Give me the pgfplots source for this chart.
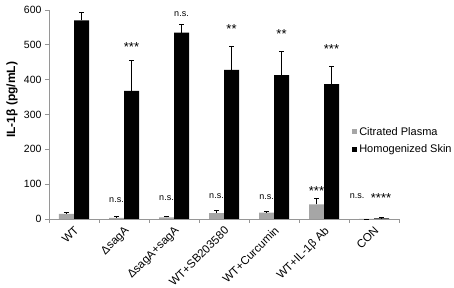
\documentclass[border=0pt]{standalone}
\usepackage{pgfplots}
\pgfplotsset{compat=1.18}
\usepackage{fontspec}
\setmainfont{Liberation Sans}
\definecolor{plasma}{RGB}{166,166,166}
\definecolor{axgray}{RGB}{150,150,150}
\begin{document}
\begin{tikzpicture}
\useasboundingbox (-49pt,-69pt) rectangle (405pt,219pt);
\begin{axis}[
  scale only axis,
  width=350pt, height=209pt,
  xmin=0, xmax=7, ymin=0, ymax=600,
  ybar=0pt, bar width=15pt,
  axis lines*=left,
  axis line style={axgray, line width=0.8pt},
  xtick={0.5,1.5,2.5,3.5,4.5,5.5,6.5},
  xticklabels={WT,ΔsagA,ΔsagA+sagA,WT+SB203580,WT+Curcumin,WT+IL-1β Ab,CON},
  major x tick style={draw=none},
  minor xtick={0,1,2,3,4,5,6,7},
  minor x tick style={axgray, line width=0.8pt},
  minor tick length=4pt,
  ytick={0,100,200,300,400,500,600},
  y tick style={axgray, line width=0.8pt},
  major tick length=4pt,
  tick align=outside,
  x tick label style={rotate=45, anchor=north east, font=\fontsize{11.5}{13}\selectfont, inner sep=0pt, xshift=-2pt, yshift=-1.5pt},
  y tick label style={font=\fontsize{10.5}{12}\selectfont},
  /pgf/number format/assume math mode=true,
  ylabel={\textbf{IL-1β (pg/mL)}},
  ylabel style={at={([xshift=-37pt]axis description cs:0,0.57)}, anchor=center, font=\fontsize{12}{14}\selectfont},
  legend style={draw=none, fill=none, at={(axis description cs:0.866,0.45)}, anchor=north west, font=\fontsize{11}{13}\selectfont, row sep=4pt, inner sep=0pt, /tikz/every even column/.append style={column sep=2pt}},
  legend cell align=left,
  legend image code/.code={\fill[#1] (0pt,-2.5pt) rectangle (5pt,2.5pt);},
  error bars/y dir=plus, error bars/y explicit,
  error bars/error bar style={black, line width=0.9pt},
  error bars/error mark options={rotate=90, mark size=2.5pt, black, line width=0.9pt},
  clip=false,
]
\addplot[fill=plasma, draw=none] coordinates {
 (0.5,15) +- (0,4)
 (1.5,3) +- (0,3)
 (2.5,5) +- (0,3)
 (3.5,17) +- (0,8)
 (4.5,18) +- (0,4)
 (5.5,42) +- (0,18)
 (6.5,0) +- (0,0)
};
\addplot[fill=black, draw=none] coordinates {
 (0.5,570) +- (0,22)
 (1.5,368) +- (0,88)
 (2.5,535) +- (0,23)
 (3.5,428) +- (0,66)
 (4.5,413) +- (0,67)
 (5.5,387) +- (0,50)
 (6.5,2) +- (0,2)
};
\legend{Citrated Plasma,Homogenized Skin}
\tikzset{st/.style={font=\fontsize{13}{13}\selectfont, inner sep=0pt}, ns/.style={font=\fontsize{9}{10}\selectfont, inner sep=0pt}}
\node[st] at ([xshift=7.5pt]axis cs:1.5,493) {***};
\node[ns] at ([xshift=7.5pt]axis cs:2.5,588) {n.s.};
\node[st] at ([xshift=7.5pt]axis cs:3.5,545) {**};
\node[st] at ([xshift=7.5pt]axis cs:4.5,531) {**};
\node[st] at ([xshift=7.5pt]axis cs:5.5,488) {***};
\node[ns] at ([xshift=-7.5pt]axis cs:1.5,55) {n.s.};
\node[ns] at ([xshift=-7.5pt]axis cs:2.5,60) {n.s.};
\node[ns] at ([xshift=-7.5pt]axis cs:3.5,66) {n.s.};
\node[ns] at ([xshift=-7.5pt]axis cs:4.5,63) {n.s.};
\node[st] at ([xshift=-7.5pt]axis cs:5.5,80) {***};
\node[ns] at ([xshift=-17pt]axis cs:6.5,66) {n.s.};
\node[st] at ([xshift=7pt]axis cs:6.5,60) {****};
\end{axis}
\end{tikzpicture}
\end{document}
